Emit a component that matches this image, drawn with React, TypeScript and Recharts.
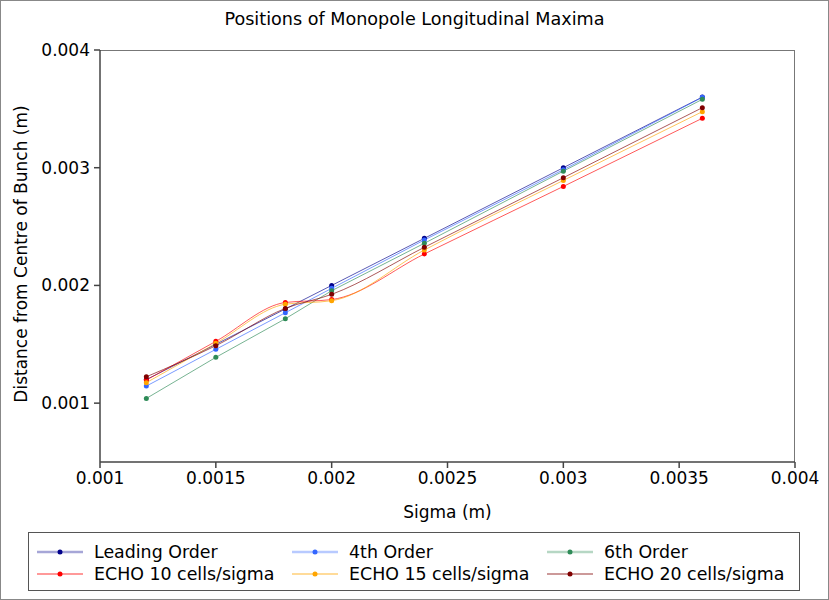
import React from "react";
import { LineChart, Line, XAxis, YAxis, Legend } from "recharts";

document.body.style.margin = "0";

const FONT = "DejaVu Sans, Verdana, sans-serif";

// sigma values (m)
const sigma = [0.0012, 0.0015, 0.0018, 0.002, 0.0024, 0.003, 0.0036];

// maxima positions (m)
const leadingOrder = [0.0012, 0.0015, 0.0018, 0.002, 0.0024, 0.003, 0.0036];
const fourthOrder = [0.001145, 0.001457, 0.001768, 0.001975, 0.002386, 0.002983, 0.003598];
const sixthOrder = [0.00104, 0.001389, 0.001717, 0.001955, 0.002358, 0.002971, 0.003581];
const echo10 = [0.001196, 0.001525, 0.001855, 0.00188, 0.002267, 0.002841, 0.00342];
const echo15 = [0.001174, 0.001508, 0.00184, 0.00187, 0.002301, 0.002892, 0.003476];
const echo20 = [0.001224, 0.001488, 0.001805, 0.001924, 0.002324, 0.002915, 0.00351];

const xTicks = [0.001, 0.0015, 0.002, 0.0025, 0.003, 0.0035, 0.004];
const yTicks = [0.001, 0.002, 0.003, 0.004];

const series = [
    { key: "lead", name: "Leading Order", color: "#00008b", values: leadingOrder, curve: "linear", thick: true },
    { key: "o4", name: "4th Order", color: "#3366ff", values: fourthOrder, curve: "linear", thick: true },
    { key: "o6", name: "6th Order", color: "#2e8b57", values: sixthOrder, curve: "linear", thick: true },
    { key: "e10", name: "ECHO 10 cells/sigma", color: "#ff0000", values: echo10, curve: "monotone", thick: false },
    { key: "e15", name: "ECHO 15 cells/sigma", color: "#ffa500", values: echo15, curve: "monotone", thick: false },
    { key: "e20", name: "ECHO 20 cells/sigma", color: "#800000", values: echo20, curve: "monotone", thick: false },
];

const data = sigma.map((s, i) => {
    const row: any = { sigma: s };
    series.forEach((sr) => { row[sr.key] = sr.values[i]; });
    return row;
});

const tickStyle = { fontSize: 17, fill: "#000", fontFamily: FONT };

function LegendBox() {
    return (
        <div style={{
            width: 772, height: 59, border: "1px solid #555", boxSizing: "border-box",
            display: "grid", gridTemplateColumns: "255px 255px 255px", gridTemplateRows: "22px 22px",
            padding: "8px 0 0 8px", fontFamily: FONT, fontSize: 17.4, color: "#000", textAlign: "left",
        }}>
            {series.map((s) => (
                <div key={s.key} style={{ display: "flex", alignItems: "center", whiteSpace: "nowrap" }}>
                    <svg width={46} height={12} style={{ marginRight: 11, flexShrink: 0 }}>
                        <line x1={0} y1={6} x2={46} y2={6} stroke={s.color}
                            strokeWidth={s.thick ? 2.5 : 1} strokeOpacity={s.thick ? 0.35 : 0.8} />
                        <circle cx={23} cy={6} r={2.5} fill={s.color} />
                    </svg>
                    <span>{s.name}</span>
                </div>
            ))}
        </div>
    );
}

export default function App() {
    return (
        <div style={{ position: "relative", width: 829, height: 600, background: "#fff" }}>
            <div style={{
                position: "absolute", left: 0, top: 9, width: 829, textAlign: "center",
                fontFamily: FONT, fontSize: 17.6, color: "#000",
            }}>
                Positions of Monopole Longitudinal Maxima
            </div>
            {/* top and right edges of the plot frame */}
            <div style={{
                position: "absolute", left: 100, top: 50, width: 695, height: 412,
                borderTop: "1.5px solid #777", borderRight: "1.5px solid #777",
                boxSizing: "border-box", pointerEvents: "none",
            }} />
            <LineChart width={829} height={600} data={data}
                margin={{ top: 50, right: 34, left: 0, bottom: 78 }}>
                <XAxis dataKey="sigma" type="number" domain={[0.001, 0.004]} ticks={xTicks}
                    allowDataOverflow interval={0} height={60}
                    stroke="#444" strokeWidth={1.5} tick={tickStyle} tickSize={6} tickMargin={4}
                    label={{
                        content: ({ viewBox }: any) => (
                            <text x={viewBox.x + viewBox.width / 2} y={518} textAnchor="middle"
                                fontSize={17} fontFamily={FONT} fill="#000">Sigma (m)</text>
                        ),
                    }}
                />
                <YAxis type="number" domain={[0.0005, 0.004]} ticks={yTicks} allowDataOverflow
                    width={100} stroke="#444" strokeWidth={1.5} tick={tickStyle} tickSize={6} tickMargin={4}
                    label={{
                        content: ({ viewBox }: any) => (
                            <text x={22} y={254} textAnchor="middle"
                                transform="rotate(-90 22 254)"
                                dominantBaseline="middle" fontSize={17} fontFamily={FONT} fill="#000">
                                Distance from Centre of Bunch (m)
                            </text>
                        ),
                    }}
                />
                {series.map((s) => (
                    <Line key={s.key} dataKey={s.key} name={s.name} type={s.curve as any}
                        stroke={s.color} strokeWidth={1} strokeOpacity={0.65}
                        dot={{ r: 2.5, fill: s.color, stroke: s.color, strokeWidth: 0 }}
                        activeDot={false} isAnimationActive={false} />
                ))}
                <Legend layout="horizontal" verticalAlign="middle" align="center"
                    wrapperStyle={{ position: "absolute", left: 28, top: 532, width: 772 }}
                    content={() => <LegendBox />} />
            </LineChart>
            <div style={{
                position: "absolute", left: 0, top: 0, width: 829, height: 600,
                border: "1px solid #888", boxSizing: "border-box", pointerEvents: "none",
            }} />
        </div>
    );
}
